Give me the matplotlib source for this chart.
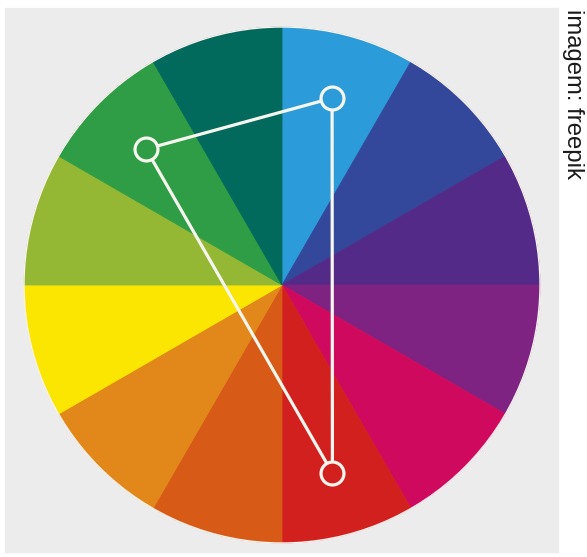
import numpy as np
import matplotlib
matplotlib.use("Agg")
import matplotlib.pyplot as plt
from matplotlib.patches import Rectangle

# 12 hue segments, clockwise from 12 o'clock
segment_colors = [
    "#2b9bd9",  # blue
    "#33479b",  # blue-violet
    "#532a87",  # violet
    "#7e2382",  # red-violet
    "#cf0a5e",  # magenta
    "#d2201f",  # red
    "#d75b17",  # red-orange
    "#e2881a",  # orange
    "#fae600",  # yellow
    "#94b833",  # yellow-green
    "#2e9d46",  # green
    "#016a5c",  # blue-green
]
segment_sizes = [1] * 12

# triad points: angle (deg, counterclockwise from 3 o'clock), radius fraction
point_angles = [75, 135, -75]
point_radii = [0.75, 0.745, 0.755]

credit = "imagem: freepik"

W, H = 587, 557
fig = plt.figure(figsize=(W / 100, H / 100), dpi=100)
fig.patch.set_facecolor("white")
fig.patches.append(Rectangle((5 / W, 5 / H), 553 / W, 544 / H,
                             transform=fig.transFigure, color="#ececec", zorder=-5))

cx, cy, R = 282, 285, 258
ax = fig.add_axes([(cx - R) / W, (H - cy - R) / H, 2 * R / W, 2 * R / H])
ax.set_zorder(2)

wedges, _ = ax.pie(segment_sizes, colors=segment_colors, startangle=90,
                   counterclock=False, radius=1,
                   wedgeprops=dict(linewidth=0.6, edgecolor="none"))
for w in wedges:
    w.set_edgecolor(w.get_facecolor())
    w.set_clip_on(False)
ax.add_patch(plt.Circle((0, 0), 1, fill=False, ec="#fbf3f0", lw=1.0, clip_on=False))

th = np.radians(point_angles)
px = np.array(point_radii) * np.cos(th)
py = np.array(point_radii) * np.sin(th)
line_col = "#f6f6ee"
ax.plot(np.append(px, px[0]), np.append(py, py[0]), color=line_col, lw=2.3,
        solid_capstyle="round", clip_on=False, zorder=3)

# face colour of each marker = segment it sits on
for x, y, a in zip(px, py, point_angles):
    idx = int(((90 - a) % 360) // 30)
    ax.plot(x, y, "o", ms=16.5, mfc=segment_colors[idx], mec=line_col, mew=2.3,
            zorder=4, clip_on=False)

ax.set_xlim(-1, 1)
ax.set_ylim(-1, 1)
ax.set_aspect("auto")
ax.axis("off")

fig.text(573.5 / W, 1 - 9 / H, credit, rotation=-90, ha="center", va="top",
         fontsize=17.2, family="Liberation Sans", color="#1a1a1a")

fig.savefig("out.png", dpi=100)
